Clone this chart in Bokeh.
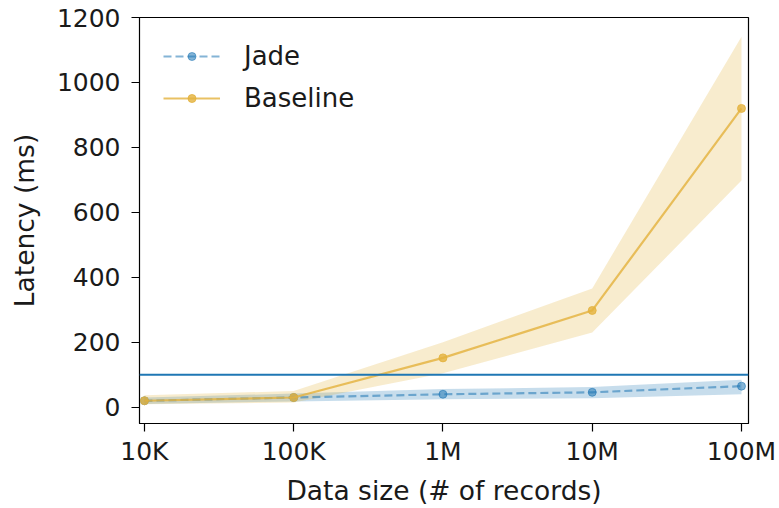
from bokeh.plotting import figure
from bokeh.models import FixedTicker, Range1d, Span, Legend, LegendItem
from bokeh.embed import file_html
from bokeh.resources import INLINE

sizes = [1e4, 1e5, 1e6, 1e7, 1e8]
size_labels = ["10K", "100K", "1M", "10M", "100M"]

jade = [20, 30, 40, 46, 65]
jade_lo = [10, 18, 25, 28, 40]
jade_hi = [30, 42, 56, 62, 85]

baseline = [20, 30, 152, 298, 920]
baseline_lo = [9, 15, 105, 230, 698]
baseline_hi = [37, 50, 200, 366, 1141]

threshold = 100

BLUE = "#1f77b4"
GOLD = "#e3b23c"
FONT = "DejaVu Sans"

p = figure(width=779, height=508, x_axis_type="log", output_backend="svg",
           toolbar_location=None,
           x_range=Range1d(10 ** 3.967, 10 ** 8.047), y_range=Range1d(-50, 1200),
           min_border_left=139, min_border_right=31, min_border_top=17, min_border_bottom=85)
p.xgrid.visible = False
p.ygrid.visible = False
p.outline_line_color = "black"
p.outline_line_width = 1.2

p.varea(x=sizes, y1=jade_lo, y2=jade_hi, fill_color=BLUE, fill_alpha=0.25)
p.varea(x=sizes, y1=baseline_lo, y2=baseline_hi, fill_color=GOLD, fill_alpha=0.25)

p.add_layout(Span(location=threshold, dimension="width", line_color=BLUE, line_width=2))

jl = p.line(sizes, jade, line_color=BLUE, line_alpha=0.55, line_width=2.2, line_dash="8 4")
jc = p.scatter(sizes, jade, size=8, fill_color=BLUE, line_color=BLUE, fill_alpha=0.55, line_alpha=0.55)
bl = p.line(sizes, baseline, line_color=GOLD, line_alpha=0.8, line_width=2.2)
bc = p.scatter(sizes, baseline, size=8, fill_color=GOLD, line_color=GOLD, fill_alpha=0.8, line_alpha=0.8)

legend = Legend(items=[LegendItem(label="Jade", renderers=[jl, jc]),
                       LegendItem(label="Baseline", renderers=[bl, bc])],
                location="top_left", border_line_color=None, background_fill_alpha=0,
                label_text_font=FONT, label_text_font_size="26px",
                label_text_color="#1a1a1a",
                glyph_width=57, glyph_height=20, spacing=12, label_standoff=24,
                margin=24, padding=9)
p.add_layout(legend)

p.xaxis.ticker = FixedTicker(ticks=sizes, minor_ticks=[])
p.xaxis.major_label_overrides = {s: l for s, l in zip(sizes, size_labels)}
p.yaxis.ticker = FixedTicker(ticks=[0, 200, 400, 600, 800, 1000, 1200], minor_ticks=[])

for ax in (p.xaxis, p.yaxis):
    ax.major_label_text_font = FONT
    ax.major_label_text_font_size = "25px"
    ax.major_label_text_color = "#1a1a1a"
    ax.axis_label_text_font = FONT
    ax.axis_label_text_font_size = "26.5px"
    ax.axis_label_text_font_style = "normal"
    ax.axis_label_text_color = "#1a1a1a"
    ax.major_tick_out = 8
    ax.major_tick_in = 0
    ax.minor_tick_out = 0
    ax.minor_tick_in = 0
    ax.axis_line_color = "black"
    ax.major_tick_line_color = "black"
    ax.major_tick_line_width = 1.2

p.xaxis.axis_label = "Data size (# of records)"
p.yaxis.axis_label = "Latency (ms)"
p.xaxis.major_label_standoff = 5
p.yaxis.major_label_standoff = 11
p.xaxis.axis_label_standoff = 6
p.yaxis.axis_label_standoff = 14

open("out.html", "w").write(file_html(p, INLINE))
